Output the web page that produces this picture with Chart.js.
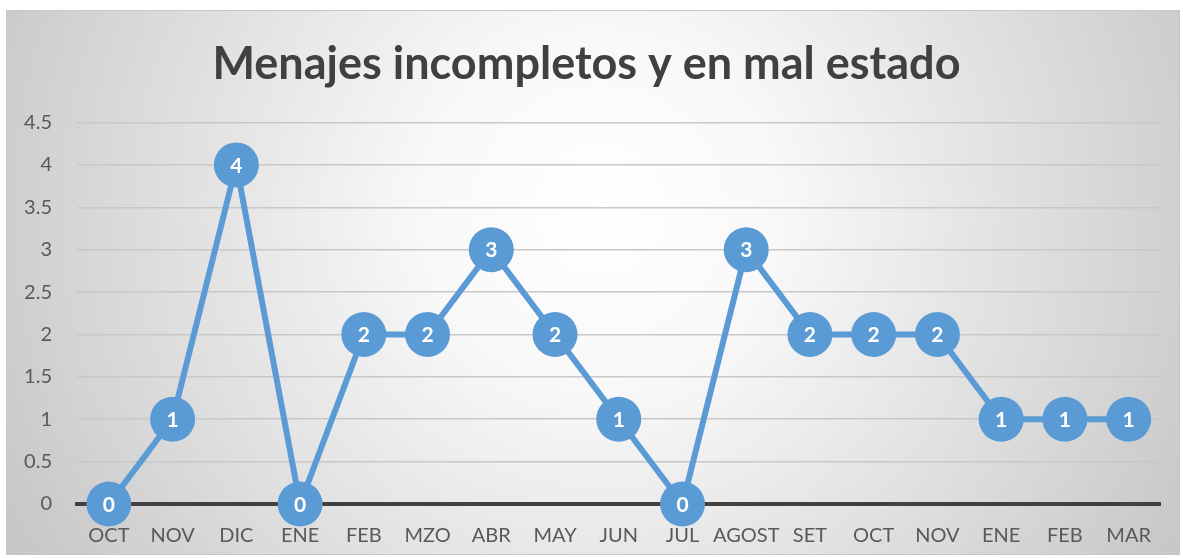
<!DOCTYPE html>
<html lang="es">
<head>
  <meta charset="UTF-8">
  <title>Menajes incompletos y en mal estado</title>
  <script src="https://cdn.jsdelivr.net/npm/chart.js"></script>
  <style>
    body { margin: 0; background: #ffffff; }
    canvas { display: block; }
  </style>
</head>
<body>
  <canvas id="myChart" width="1183" height="558"></canvas>
  <script>
    // data
    const meses = ['OCT', 'NOV', 'DIC', 'ENE', 'FEB', 'MZO', 'ABR', 'MAY', 'JUN', 'JUL', 'AGOST', 'SET', 'OCT', 'NOV', 'ENE', 'FEB', 'MAR'];
    const cantidades = [0, 1, 4, 0, 2, 2, 3, 2, 1, 0, 3, 2, 2, 2, 1, 1, 1];
    const yTicks = [0, 0.5, 1, 1.5, 2, 2.5, 3, 3.5, 4, 4.5];

    const azul = '#5B9BD5';

    // radial grey background + thin frame
    const fondo = {
      id: 'fondo',
      beforeDraw(chart) {
        const c = chart.ctx;
        c.save();
        c.fillStyle = '#ffffff';
        c.fillRect(0, 0, chart.width, chart.height);
        const g = c.createRadialGradient(600, 210, 0, 600, 210, 720);
        g.addColorStop(0, '#ffffff');
        g.addColorStop(0.25, '#f8f8f8');
        g.addColorStop(1, '#c2c2c2');
        c.fillStyle = g;
        c.fillRect(6, 10, 1174, 545);
        c.strokeStyle = '#c8c8c8';
        c.lineWidth = 1;
        c.strokeRect(6.5, 10.5, 1173, 544);
        c.restore();
      }
    };

    // white value labels inside the markers
    const etiquetas = {
      id: 'etiquetas',
      afterDatasetsDraw(chart) {
        const c = chart.ctx;
        const meta = chart.getDatasetMeta(0);
        c.save();
        c.fillStyle = '#ffffff';
        c.font = 'bold 21px Lato';
        c.textAlign = 'center';
        c.textBaseline = 'middle';
        meta.data.forEach((pt, i) => {
          c.fillText(String(cantidades[i]), pt.x, pt.y + 1);
        });
        c.restore();
      }
    };

    const ctx = document.getElementById('myChart').getContext('2d');
    new Chart(ctx, {
      type: 'line',
      data: {
        labels: meses,
        datasets: [{
          data: cantidades,
          borderColor: azul,
          backgroundColor: azul,
          borderWidth: 6,
          pointRadius: 22.5,
          pointHoverRadius: 22.5,
          pointBackgroundColor: azul,
          pointBorderColor: azul,
          pointBorderWidth: 0,
          tension: 0,
          clip: false
        }]
      },
      options: {
        responsive: false,
        animation: false,
        events: [],
        layout: { padding: { top: 10, left: 6, right: 16, bottom: 14 } },
        plugins: {
          legend: { display: false },
          tooltip: { enabled: false },
          title: {
            display: true,
            text: 'Menajes incompletos y en mal estado',
            color: '#404040',
            font: { family: 'Lato', size: 45, weight: 'bold', lineHeight: 1.1 },
            padding: { top: 30, bottom: 33 }
          }
        },
        scales: {
          x: {
            offset: true,
            grid: { display: false, drawTicks: false },
            border: { display: true, color: '#404040', width: 4 },
            ticks: {
              color: '#595959',
              font: { family: 'Lato', size: 20 },
              padding: 20,
              maxRotation: 0,
              autoSkip: false
            },
            afterFit(scale) { scale.height = 40; }
          },
          y: {
            min: 0,
            max: 4.5,
            afterBuildTicks(scale) {
              scale.ticks = yTicks.map(v => ({ value: v }));
            },
            grid: {
              drawTicks: false,
              color: '#c8c8c8',
              lineWidth: 1.5
            },
            border: { display: false },
            ticks: {
              color: '#595959',
              font: { family: 'Lato', size: 20 },
              padding: 25,
              callback: v => String(v)
            },
            afterFit(scale) { scale.width = 71; }
          }
        }
      },
      plugins: [fondo, etiquetas]
    });
  </script>
</body>
</html>
